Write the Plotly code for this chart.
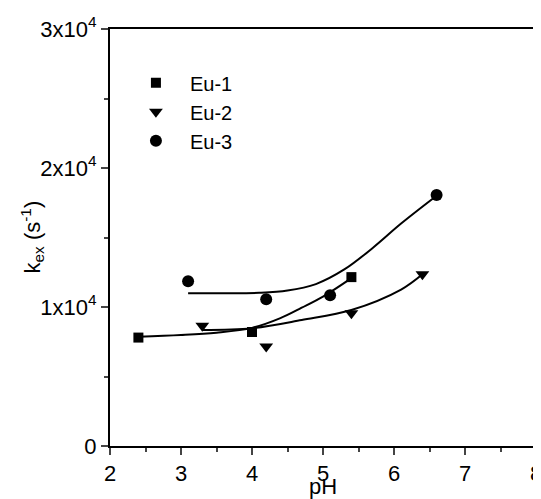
import plotly.graph_objects as go

# measured data
ph_eu1 = [2.4, 4.0, 5.4]
k_eu1 = [7800, 8200, 12150]
ph_eu2 = [3.3, 4.2, 5.4, 6.4]
k_eu2 = [8650, 7150, 9550, 12350]
ph_eu3 = [3.1, 4.2, 5.1, 6.6]
k_eu3 = [11850, 10550, 10850, 18050]

# fit curves
fit1_ph = [2.4, 3.0, 3.5, 4.0, 4.4, 4.7, 5.0, 5.4]
fit1_k = [7860, 7980, 8150, 8500, 9200, 9950, 10750, 12080]
fit2_ph = [3.3, 4.0, 4.7, 5.4, 6.1, 6.4]
fit2_k = [8350, 8470, 9060, 9780, 11250, 12350]
fit3_ph = [3.1, 3.6, 4.1, 4.5, 4.9, 5.3, 5.7, 6.1, 6.6]
fit3_k = [10990, 10990, 11020, 11180, 11650, 12700, 14250, 16000, 18000]

x_ticks = [2, 3, 4, 5, 6, 7, 8]
y_ticks = [0, 10000, 20000, 30000]
y_ticktext = ["0", "1x10<sup>4</sup>", "2x10<sup>4</sup>", "3x10<sup>4</sup>"]
y_title = "k<sub>ex</sub> (s<sup>-1</sup>)"

FONT = "Liberation Sans, Arial, sans-serif"
FS = 22

fig = go.Figure()
for fx, fy in [(fit1_ph, fit1_k), (fit2_ph, fit2_k), (fit3_ph, fit3_k)]:
    fig.add_trace(go.Scatter(x=fx, y=fy, mode="lines", line=dict(color="black", width=2, shape="spline"),
                             showlegend=False, hoverinfo="skip"))

fig.add_trace(go.Scatter(x=ph_eu1, y=k_eu1, mode="markers", name="Eu-1",
                         marker=dict(symbol="square", size=10, color="black")))
fig.add_trace(go.Scatter(x=ph_eu2, y=k_eu2, mode="markers", name="Eu-2",
                         marker=dict(symbol="triangle-down", size=12, color="black")))
fig.add_trace(go.Scatter(x=ph_eu3, y=k_eu3, mode="markers", name="Eu-3",
                         marker=dict(symbol="circle", size=12, color="black")))

# the page body adds an 8px margin; the figure is sized to put the plot area where the reference has it
fig.update_layout(
    width=533, height=491,
    margin=dict(l=102, r=5, t=21, b=53),
    paper_bgcolor="white", plot_bgcolor="white",
    font=dict(family=FONT, size=FS, color="black"),
    legend=dict(x=0.028, y=0.918, xanchor="left", yanchor="top", bgcolor="rgba(0,0,0,0)",
                font=dict(size=20), itemwidth=58, tracegroupgap=0),
    showlegend=True,
    annotations=[dict(text=y_title, xref="paper", yref="paper", x=0, y=0.5, xanchor="center",
                      yanchor="middle", xshift=-78, textangle=-90, showarrow=False,
                      font=dict(size=FS, family=FONT, color="black"))],
)
fig.update_xaxes(range=[2, 8], tickvals=x_ticks, ticks="outside", ticklen=7, tickwidth=1.5,
                 showline=True, linecolor="black", linewidth=2, mirror=True, showgrid=False, zeroline=False,
                 automargin=False, ticklabeloverflow="allow",
                 minor=dict(ticks="outside", ticklen=4, dtick=0.5, tickwidth=1.5, showgrid=False),
                 title=dict(text="pH", standoff=1, font=dict(size=FS)), tickfont=dict(size=FS))
fig.update_yaxes(range=[0, 30000], tickvals=y_ticks, ticktext=y_ticktext, ticks="outside", ticklen=7,
                 tickwidth=1.5, showline=True, linecolor="black", linewidth=2, mirror=True,
                 showgrid=False, zeroline=False, automargin=False, ticklabeloverflow="allow",
                 minor=dict(ticks="outside", ticklen=4, tickvals=[5000, 15000, 25000], tickwidth=1.5, showgrid=False),
                 tickfont=dict(size=FS))

fig.write_html("out.html")
